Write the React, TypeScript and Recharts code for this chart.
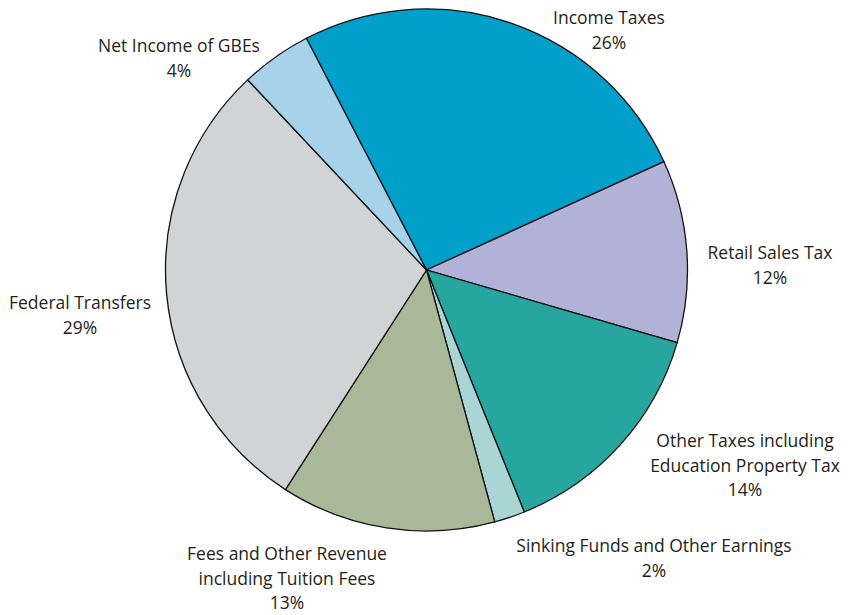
import { Cell, Pie, PieChart } from "recharts";

/* Revenue sources, share of total (%) */
const categories = [
  "Income Taxes",
  "Retail Sales Tax",
  "Other Taxes including|Education Property Tax",
  "Sinking Funds and Other Earnings",
  "Fees and Other Revenue|including Tuition Fees",
  "Federal Transfers",
  "Net Income of GBEs",
];
const shares = [25.8, 11.3, 14.4, 1.9, 13.3, 28.9, 4.4];
const shareLabels = ["26%", "12%", "14%", "2%", "13%", "29%", "4%"];

const colors = [
  "#00a0cb",
  "#b2b2d9",
  "#27a69f",
  "#a9d6d4",
  "#a9b899",
  "#d2d3d5",
  "#a6d3e9",
];

// label centre x and first-line y
const labelPos = [
  { x: 609, y: 17 },
  { x: 770, y: 252 },
  { x: 745, y: 440 },
  { x: 654, y: 545 },
  { x: 287, y: 553 },
  { x: 80, y: 302 },
  { x: 179, y: 45 },
];

const data = categories.map((name, i) => ({
  name,
  value: shares[i],
  pct: shareLabels[i],
}));

const renderLabel = (props: any) => {
  const i = props.index;
  const pos = labelPos[i];
  const lines = [...data[i].name.split("|"), data[i].pct];
  return (
    <text
      key={i}
      x={pos.x}
      y={pos.y}
      textAnchor="middle"
      dominantBaseline="central"
      fontFamily="'Open Sans', sans-serif"
      fontSize={17.5}
      fill="#231f20"
    >
      {lines.map((l, j) => (
        <tspan key={j} x={pos.x} dy={j === 0 ? 0 : 24.5}>
          {l}
        </tspan>
      ))}
    </text>
  );
};

export default function App() {
  return (
    <div style={{ position: "absolute", left: 0, top: 0, background: "#fff" }}>
      <PieChart width={850} height={615}>
        <Pie
          data={data}
          dataKey="value"
          cx={421.5}
          cy={265}
          outerRadius={261}
          startAngle={117.4}
          endAngle={-242.6}
          stroke="#111"
          strokeWidth={1.3}
          label={renderLabel}
          labelLine={false}
          isAnimationActive={false}
        >
          {data.map((d, i) => (
            <Cell key={d.name} fill={colors[i]} />
          ))}
        </Pie>
      </PieChart>
    </div>
  );
}
